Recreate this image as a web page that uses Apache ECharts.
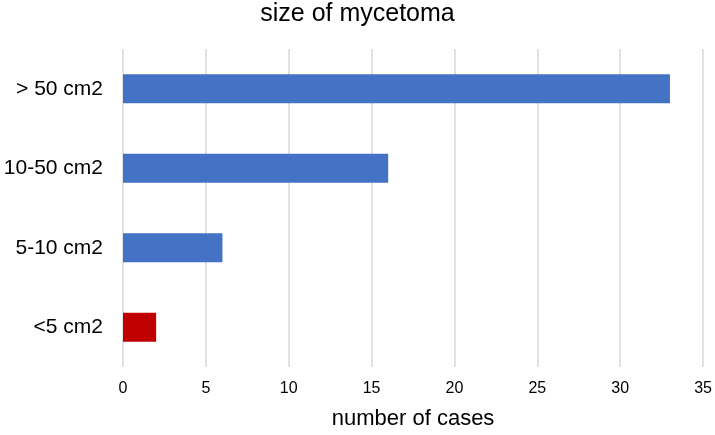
<!DOCTYPE html>
<html>
<head>
<meta charset="utf-8">
<script src="https://cdn.jsdelivr.net/npm/echarts@6/dist/echarts.min.js"></script>
<style>html,body{margin:0;padding:0;background:#fff}#c{width:715px;height:435px}</style>
</head>
<body>
<div id="c"></div>
<script>
const categories = ["<5 cm2", "5-10 cm2", "10-50 cm2", "> 50 cm2"];
const values = [2, 6, 16, 33];
const barColors = ["#C00000", "#4472C4", "#4472C4", "#4472C4"];
const xTicks = [0, 5, 10, 15, 20, 25, 30, 35];

const chart = echarts.init(document.getElementById('c'));
chart.setOption({
  animation: false,
  title: {
    text: "size of mycetoma",
    left: 'center',
    top: 2,
    padding: 0,
    textStyle: {fontFamily: 'Liberation Sans', fontSize: 25, fontWeight: 'normal', color: '#000'}
  },
  grid: {left: 123, right: 11, top: 49, bottom: 63},
  xAxis: {
    type: 'value', min: xTicks[0], max: xTicks[xTicks.length-1], interval: 5,
    name: "number of cases", nameLocation: 'middle', nameGap: 41,
    nameTextStyle: {fontFamily: 'Liberation Sans', fontSize: 22, color: '#000'},
    axisLine: {show: false}, axisTick: {show: false},
    axisLabel: {fontFamily: 'Liberation Sans', fontSize: 16, color: '#000', margin: 14},
    splitLine: {show: true, lineStyle: {color: '#d9d9d9', width: 1.5}}
  },
  yAxis: {
    type: 'category', data: categories,
    axisLine: {show: false}, axisTick: {show: false},
    axisLabel: {fontFamily: 'Liberation Sans', fontSize: 21, color: '#000', margin: 20}
  },
  series: [{
    type: 'bar',
    data: values.map((v, i) => ({value: v, itemStyle: {color: barColors[i]}})),
    barWidth: 29
  }]
});
</script>
</body>
</html>
